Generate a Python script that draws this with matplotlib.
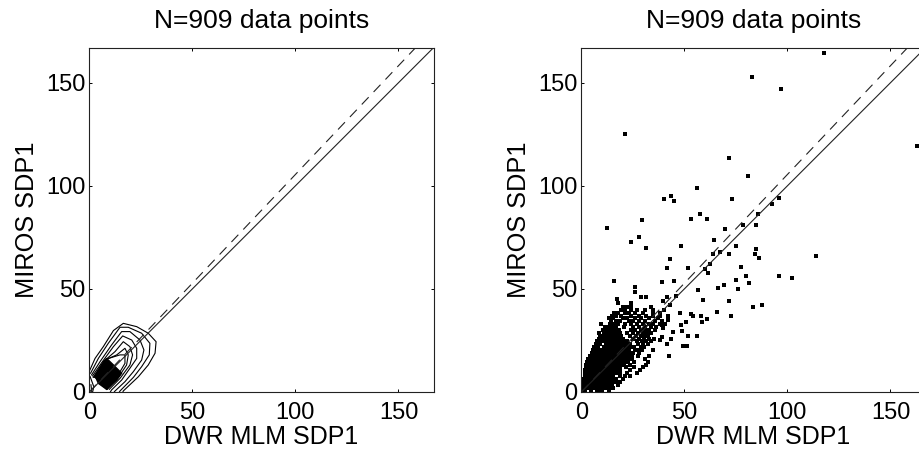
import matplotlib
matplotlib.use("Agg")
import matplotlib.pyplot as plt

plt.rcParams['font.family'] = ['Liberation Sans', 'DejaVu Sans']
plt.rcParams['lines.scale_dashes'] = False

W, H = 919, 454
TITLE = "N=909 data points"
XLABEL = "DWR MLM SDP1"
YLABEL = "MIROS SDP1"
LIMIT = 167
TICKS = [0, 50, 100, 150]
DASH_SLOPE = 1.055

# Contour lines of the left panel, outermost first (x, y)
contour_1 = [(0.3,10.7),(2.8,16.3),(6.8,22),(11.7,29.8),(16.5,33.3),(23,31.7),(28.6,28.5),(32.4,24.4),(31.9,18.8),(28.6,13.1),(23.8,7.4),(16.5,0.5),(16.3,0)]
contour_2 = [(0.6,9.1),(4.4,16.3),(9.2,23.6),(14.9,31.4),(18.9,31.4),(25.4,28.5),(29.4,23.6),(29.1,18),(25.4,12.3),(21.4,7.1),(14.9,0.5),(14.6,0)]
contour_3 = [(1.1,8.3),(5.2,14.7),(10.8,22.8),(15.7,29.3),(19.7,29.3),(24.6,25.2),(26.5,20.4),(25.4,15.5),(21.4,9.9),(17.3,5),(12.5,0.5),(12.1,0)]
contour_4 = [(1.6,7.8),(6,14.2),(11.7,22),(16.2,27.2),(20.6,25.2),(23,21.2),(23,16.3),(19.7,11.5),(15.7,5.8),(10.8,1),(10.2,0)]
contour_5 = [(1.9,7.1),(6.8,14.7),(12.5,19.6),(16.5,24.4),(19.7,22),(21,18),(19.7,13.1),(14.9,6.6),(9.7,1.3)]
contour_6 = [(2.3,7.1),(7.6,15.5),(13.3,18),(17.3,21.2),(18.9,18),(18.1,13.1),(14.1,7.1),(8.7,1.3)]
contour_7 = [(2.8,7.1),(8.1,15.9),(14.9,18),(17.3,18),(17.3,13.9),(13.3,7.1),(8.4,1.3),(2.8,7.1)]
contour_8 = [(0.4,7.5),(2.2,2.5),(1.6,0)]
contour_9 = [(0.8,3.5),(1.2,0)]
contours = [contour_1, contour_2, contour_3, contour_4, contour_5, contour_6, contour_7, contour_8, contour_9]
peak = [(2.8,7.8),(8.4,16.3),(11.7,13.1),(15.7,9.1),(13.3,5.8),(8.4,1.3),(4.4,4.2)]

# Isolated points of the right panel (x, y)
sparse = [(12.4,79.5),(29.5,83.2),(28,75.2),(24,72.6),(31.5,69.8),(53.4,84),(57.4,86.3),(61,83.9),(69.8,79),
          (64.2,73.5),(75.3,71),(71.8,67),(63.7,67),(67.3,67.7),(62.4,62.3),(60.2,59.8),(61.6,57.6),(48.2,70.6),
          (43.2,64.4),(41.8,60.3),(52,60.3),(39,53.5),(45.2,54),(15.8,53.7),(26.1,50.8),(26,48.4),(28.9,46),
          (31.6,46.3),(17.3,45.3),(41.6,46),(46,46.8),(39.8,44),(43,42.4),(56.8,49.4),(66.5,50.5),(69,52),
          (77.3,60.7),(75.3,54.4),(80.1,56.2),(81.6,52.9),(76,50.2),(71.8,44),(58.9,44.4),(65.6,38.9),(72.6,36.9),
          (48,38.5),(53,37.6),(54,37),(58,37),(60.8,35.5),(58.7,34),(50.6,34),(48.4,32.4),(48.7,29.5),(44.4,29.2),
          (52,27.4),(56.1,27),(43.7,25.5),(41.8,23.4),(49.5,22.4),(51.5,22.1),(42.4,17.3),(39,26.6),(38.2,25),
          (42.3,36.8),(42.3,35),(40.7,33),(39,32.6),(39.8,31),
          (117.7,164.6),(82.7,152.9),(97,147),(71.8,113.7),(80.8,104.7),(56.1,98.9),(40.3,93.7),(43.7,95),(45.2,92.7),
          (73.2,93.4),(95.8,93.9),(92.4,91),(85.5,86.5),(78.6,81.1),(84.8,80.8),(163,119.4),(21.3,125),
          (113.8,65.9),(85,69.4),(84.2,66.8),(86.4,65),(96,56.5),(102.1,55.2),(83.5,41.4),(87.7,42.1)]

# Dense cloud of the right panel: one y value per row, with the x values read along it
cloud_y = [0.7,2.1,3.5,4.9,6.3,7.7,9.1,10.5,11.9,13.3,14.7,16.1,17.5,18.9,20.3,21.7,23.1,24.5,25.9,27.3,
           28.7,30.1,31.5,32.9,34.3,35.7,37.1,38.5,39.9,41.3,43]
cloud_x = [
    [0.8,2,4.6,7.4,8.8,10.2,13.2],
    [1,2.4,3.8,5.2,6.6,8,9.4,10.8,12.2,13.6,15.2],
    [0.9,2.2,3.6,5,6.4,7.8,9.2,10.6,12,13.4,14.8,17.6],
    [1.2,2.6,4,5.4,6.8,8.2,9.6,11,12.4,13.8,15.2,16.8,18.6],
    [1.4,2.8,4.2,5.6,7,8.4,9.8,11.2,12.6,14,15.4,17,20.2],
    [1.6,3,4.4,5.8,7.2,8.6,10,11.4,12.8,14.2,15.6,18.6,21,23.6],
    [1.8,3.2,4.6,6,7.4,8.8,10.2,11.6,13,14.4,15.8,17.2,18.6,22.4,27],
    [2,3.4,4.8,6.2,7.6,9,10.4,11.8,13.2,14.6,16,17.4,18.8,23.6,28.6],
    [2.2,3.6,5,6.4,7.8,9.2,10.6,12,13.4,14.8,16.2,17.6,19,21.8,25.4,30],
    [2.4,3.8,5.2,6.6,8,9.4,10.8,12.2,13.6,15,16.4,17.8,19.2,20.6,23.6,31.5],
    [3,4.4,5.8,7.2,8.6,10,11.4,12.8,14.2,15.6,17,18.4,19.8,21.2,22.6,25.6,32.5],
    [3.4,4.8,6.6,8,9.4,10.8,12.2,13.6,15,16.4,17.8,19.2,20.6,22,23.4,24.8,31],
    [4.4,5.8,7.8,9.2,10.6,12,13.4,14.8,16.2,17.6,19,20.4,21.8,23.2,24.6,27.6,33],
    [5,6.6,8.4,9.8,11.2,12.6,14,15.4,16.8,18.2,19.6,21,22.4,23.8,25.2,28.2],
    [5.6,7.2,9,10.4,11.8,13.2,14.6,16,17.4,18.8,20.2,21.6,23,26,27.6,29.4,35],
    [6.4,8,11,12.4,13.8,15.2,16.6,18,19.4,20.8,22.2,23.8,25.4,29,30.4],
    [7,9,12,13.4,14.8,16.2,17.6,19,20.4,21.8,23.4,27.6,30,32.5],
    [7.6,9.6,11,12.4,13.8,15.2,16.6,18,19.4,20.8,22.4,27,29.4,31.5,34],
    [8.4,10.4,11.8,13.2,14.6,16,17.4,18.8,20.2,25,28,30.4,33,35.4],
    [9,10.8,12.4,13.8,15.2,16.6,18,19.4,23.4,26.4,29,31,32.6],
    [8.4,11,13,14.4,15.8,17.2,18.6,22,25,27.4,30,32,34],
    [10.6,12.6,14,15.6,17,18.4,24,26,29,31,33,35.6],
    [11.4,13.4,15,16.6,20.6,25,28,31,34,36.4],
    [9.6,14,16,18,21,24,27,30,33,35,38],
    [14.6,17,19,23,25,28,31,36,39],
    [13.4,15.6,20,22,26,29,33,37],
    [15,16.6,19.4,24,28,31.6,34.6,38],
    [16,18,21,23,26,30,35,38.4],
    [19.4,21,24,27,31,35,40],
    [20,22,24,34],
    [18,24],
]


def axes_at(fig, left, right, top, bottom):
    return fig.add_axes([left / W, 1 - bottom / H, (right - left) / W, (bottom - top) / H])


def style(ax):
    ax.set_xlim(0, LIMIT)
    ax.set_ylim(0, LIMIT)
    ax.set_xticks(TICKS)
    ax.set_yticks(TICKS)
    ax.tick_params(direction='in', top=True, right=True, length=2.4, width=0.7, labelsize=17)
    ax.tick_params(axis='x', pad=7)
    ax.tick_params(axis='y', pad=3)
    for s in ax.spines.values():
        s.set_linewidth(0.8)
        s.set_color('#222222')
    ax.set_title(TITLE, fontsize=19, pad=14)
    ax.set_xlabel(XLABEL, fontsize=18, labelpad=1)
    ax.set_ylabel(YLABEL, fontsize=18.3, labelpad=5)
    # reference lines
    ax.plot([0, LIMIT], [0, LIMIT], color='#222222', lw=0.8, zorder=3)
    ax.plot([0, LIMIT], [0, LIMIT * DASH_SLOPE], color='#222222', lw=0.8,
            linestyle=(0, (7.2, 5.2)), zorder=3)


fig = plt.figure(figsize=(W / 100, H / 100), dpi=100)

ax1 = axes_at(fig, 89.3, 433.5, 47.7, 392)
style(ax1)
for c in contours:
    ax1.plot([p[0] for p in c], [p[1] for p in c], color='black', lw=0.8, zorder=2)
ax1.fill([p[0] for p in peak], [p[1] for p in peak], color='black', zorder=2)

ax2 = axes_at(fig, 581.3, 925.5, 47.7, 392)
style(ax2)
xs = [p[0] for p in sparse]
ys = [p[1] for p in sparse]
for y, row in zip(cloud_y, cloud_x):
    xs.extend(row)
    ys.extend([y] * len(row))
ax2.scatter(xs, ys, s=6, marker='s', color='black', linewidths=0, zorder=2, clip_on=False)

fig.savefig("out.png", dpi=100)
